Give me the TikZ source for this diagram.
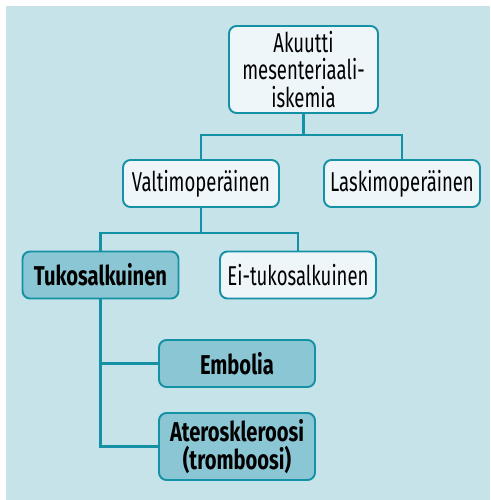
\documentclass[tikz,border=0pt]{standalone}
\usepackage{fontspec}
\setmainfont[FakeStretch=0.68, BoldFeatures={FakeStretch=0.74}]{Fira Sans}
\usepackage{tikz}
\usetikzlibrary{positioning, calc}

\definecolor{bgblue}{HTML}{C5E3E8}
\definecolor{boxlight}{HTML}{EEF6F9}
\definecolor{boxdark}{HTML}{8BC6D4}
\definecolor{tealline}{HTML}{1591A5}

\begin{document}
\begin{tikzpicture}[
    x=0.02cm, y=-0.02cm,
    box/.style={draw=tealline, line width=1.1pt, rounded corners=1.5mm, fill=boxlight,
        align=center, font=\fontsize{15.5}{15.5}\selectfont, inner sep=0pt,
        minimum width=3.12cm, minimum height=0.94cm},
    darkbox/.style={box, fill=boxdark, font=\fontsize{15.5}{15.5}\selectfont\bfseries},
    link/.style={draw=tealline, line width=1.5pt}
]
\useasboundingbox (0,0) rectangle (490,500);
\fill[bgblue] (6,6) rectangle (490,500);

\node[box, minimum width=2.98cm, minimum height=1.74cm] (root) at (303.5,69.5) {Akuutti\\mesenteriaali-\\iskemia};
\node[box] (valt) at (201,183.5) {Valtimoperäinen};
\node[box] (lask) at (402,183.5) {Laskimoperäinen};

\node[darkbox] (tuko) at (100.5,275) {Tukosalkuinen};
\node[box] (ei) at (298,275) {Ei-tukosalkuinen};

\node[darkbox] (embo) at (237,363.5) {Embolia};
\node[darkbox, minimum height=1.34cm] (ater) at (237,446.5) {Ateroskleroosi\\(tromboosi)};

% haarat
\draw[link] (root.south) -- ++(0,21) coordinate (r1) -| (valt.north);
\draw[link] (r1) -| (lask.north);
\draw[link] (valt.south) -- ++(0,25) coordinate (v1) -| (tuko.north);
\draw[link] (v1) -| (ei.north);
\draw[link] (tuko.south) |- (embo.west);
\draw[link] (tuko.south) |- (ater.west);

\end{tikzpicture}
\end{document}
